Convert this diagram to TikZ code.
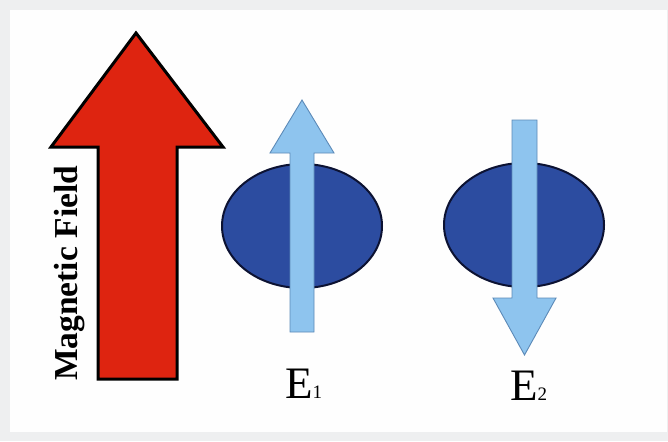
\documentclass[tikz,border=0pt]{standalone}
\usepackage{fontspec}
\setmainfont{Liberation Serif}
\usepackage{xcolor}
\usepackage{tikz}
\usetikzlibrary{calc}
\definecolor{fieldred}{RGB}{222,36,16}
\definecolor{ballblue}{RGB}{44,76,160}
\definecolor{balledge}{RGB}{12,18,50}
\definecolor{spinblue}{RGB}{142,196,238}
\definecolor{spinedge}{RGB}{92,138,184}
\definecolor{panelgray}{RGB}{238,239,240}

\begin{document}
\begin{tikzpicture}[x=1pt,y=1pt,
    fieldarrow/.style={fill=fieldred,draw=black,line width=3pt,line join=miter},
    particle/.style={fill=ballblue,draw=balledge,line width=2pt},
    spinarrow/.style={fill=spinblue,draw=spinedge,line width=0.9pt,line join=miter},
    elabel/.style={inner sep=0pt,anchor=base west,font=\fontsize{45}{45}\selectfont}]
    % Fondo y marco.
    \useasboundingbox (0,0) rectangle (668,-441);
    \fill[panelgray] (0,0) rectangle (668,-441);
    \fill[white!99!gray] (10,-10) rectangle (667,-432);

    % Flecha del campo y su texto.
    \draw[fieldarrow] (136,-33) -- (223,-147) -- (177,-147) -- (177,-379)
      -- (98,-379) -- (98,-147) -- (51,-147) -- cycle;
    \node[rotate=90,inner sep=0pt,anchor=base west,
      font=\fontsize{33.5}{33.5}\selectfont\bfseries] (fieldlabel) at (77,-381) {Magnetic Field};

    % Partícula con espín hacia arriba.
    \draw[particle] (302,-226) ellipse [x radius=80,y radius=62];
    \draw[spinarrow] (302,-100) -- (334,-153) -- (314,-153) -- (314,-332)
      -- (290,-332) -- (290,-153) -- (270,-153) -- cycle;
    \node[elabel] (eone) at (285,-398) {E{\fontsize{19}{19}\selectfont 1}};

    % Partícula con espín hacia abajo.
    \draw[particle] (524,-225) ellipse [x radius=80,y radius=62];
    \draw[spinarrow] (512,-120) -- (537,-120) -- (537,-298) -- (556,-298)
      -- (524.5,-355) -- (493,-298) -- (512,-298) -- cycle;
    \node[elabel] (etwo) at (510,-400) {E{\fontsize{19}{19}\selectfont 2}};
  \end{tikzpicture}
\end{document}
